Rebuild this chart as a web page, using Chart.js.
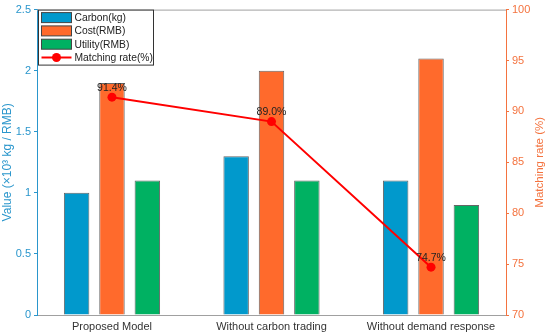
<!DOCTYPE html>
<html>
<head>
<meta charset="utf-8">
<script src="https://cdn.jsdelivr.net/npm/chart.js@4.4.0/dist/chart.umd.min.js"></script>
<style>
  html, body { margin: 0; padding: 0; background: #fff; }
  #wrap { width: 550px; height: 336px; }
</style>
</head>
<body>
<div id="wrap"><canvas id="chart" width="550" height="336"></canvas></div>
<script>
const categories = ['Proposed Model', 'Without carbon trading', 'Without demand response'];
const positions = [1, 2, 3];
const carbon = [1.0, 1.3, 1.1];
const cost = [1.9, 2.0, 2.1];
const utility = [1.1, 1.1, 0.9];
const matchingRate = [91.4, 89.0, 74.7];
const leftTicks = [0, 0.5, 1, 1.5, 2, 2.5];
const rightTicks = [70, 75, 80, 85, 90, 95, 100];

const BLUE = '#0199cc';
const ORANGE = '#ff6a2c';
const GREEN = '#00b162';
const RED = '#ff0000';
const LEFT_AXIS = '#2a96cc';
const RIGHT_AXIS = '#f4733f';
const FONT = 'Liberation Sans, Arial, sans-serif';

const toXY = arr => arr.map((v, i) => ({ x: positions[i], y: v }));

// percent labels above the line markers
const pointLabels = {
    id: 'pointLabels',
    afterDatasetsDraw(chart) {
        const ctx = chart.ctx;
        const meta = chart.getDatasetMeta(3);
        ctx.save();
        ctx.font = '10.5px ' + FONT;
        ctx.fillStyle = '#222';
        ctx.textAlign = 'center';
        ctx.textBaseline = 'bottom';
        meta.data.forEach((pt, i) => {
            ctx.fillText(matchingRate[i].toFixed(1) + '%', pt.x, pt.y - 4);
        });
        ctx.restore();
    }
};

// box frame (top border), right title reading upwards, legend inside the plot
const frameAndLegend = {
    id: 'frameAndLegend',
    afterDraw(chart) {
        const ctx = chart.ctx;
        const a = chart.chartArea;
        ctx.save();
        ctx.strokeStyle = '#a0a0a0';
        ctx.lineWidth = 1;
        ctx.beginPath();
        ctx.moveTo(a.left, a.top + 0.5);
        ctx.lineTo(a.right, a.top + 0.5);
        ctx.stroke();

        ctx.save();
        ctx.translate(540, (a.top + a.bottom) / 2);
        ctx.rotate(-Math.PI / 2);
        ctx.font = '11.5px ' + FONT;
        ctx.fillStyle = RIGHT_AXIS;
        ctx.textAlign = 'center';
        ctx.textBaseline = 'middle';
        ctx.fillText('Matching rate (%)', 0, 0);
        ctx.restore();

        const x0 = a.left + 1.5, y0 = a.top + 0.5, w = 115, h = 55;
        ctx.fillStyle = '#fff';
        ctx.fillRect(x0, y0, w, h);
        ctx.strokeStyle = '#333';
        ctx.strokeRect(x0, y0, w, h);

        const items = [
            { label: 'Carbon(kg)', color: BLUE },
            { label: 'Cost(RMB)', color: ORANGE },
            { label: 'Utility(RMB)', color: GREEN },
            { label: 'Matching rate(%)', color: RED, line: true }
        ];
        ctx.font = '10.3px ' + FONT;
        ctx.textBaseline = 'middle';
        ctx.textAlign = 'left';
        items.forEach((it, i) => {
            const cy = y0 + 7.5 + i * 13.3;
            if (it.line) {
                ctx.strokeStyle = it.color;
                ctx.lineWidth = 2;
                ctx.beginPath();
                ctx.moveTo(x0 + 3, cy);
                ctx.lineTo(x0 + 33, cy);
                ctx.stroke();
                ctx.fillStyle = it.color;
                ctx.beginPath();
                ctx.arc(x0 + 18, cy, 4.5, 0, Math.PI * 2);
                ctx.fill();
            } else {
                ctx.fillStyle = it.color;
                ctx.fillRect(x0 + 3, cy - 5, 30, 10);
                ctx.strokeStyle = '#444';
                ctx.lineWidth = 1;
                ctx.strokeRect(x0 + 3, cy - 5, 30, 10);
            }
            ctx.fillStyle = '#222';
            ctx.fillText(it.label, x0 + 36, cy + 0.5);
        });
        ctx.restore();
    }
};

const barStyle = {
    borderColor: '#666',
    borderWidth: 1,
    categoryPercentage: 0.665,
    barPercentage: 0.72,
    yAxisID: 'y'
};

const numFmt = v => String(Number(v));

new Chart(document.getElementById('chart'), {
    data: {
        datasets: [
            Object.assign({ type: 'bar', label: 'Carbon(kg)', data: toXY(carbon), backgroundColor: BLUE, order: 2 }, barStyle),
            Object.assign({ type: 'bar', label: 'Cost(RMB)', data: toXY(cost), backgroundColor: ORANGE, order: 2 }, barStyle),
            Object.assign({ type: 'bar', label: 'Utility(RMB)', data: toXY(utility), backgroundColor: GREEN, order: 2 }, barStyle),
            {
                type: 'line',
                label: 'Matching rate(%)',
                data: toXY(matchingRate),
                borderColor: RED,
                backgroundColor: RED,
                borderWidth: 2,
                pointRadius: 4.5,
                pointBackgroundColor: RED,
                pointBorderWidth: 0,
                tension: 0,
                yAxisID: 'y1',
                order: 1
            }
        ]
    },
    options: {
        responsive: false,
        animation: false,
        events: [],
        layout: { padding: { top: 7, left: 0, right: 0, bottom: 0 } },
        plugins: {
            legend: { display: false },
            tooltip: { enabled: false }
        },
        scales: {
            x: {
                type: 'linear',
                min: 0.53,
                max: 3.47,
                offset: false,
                afterBuildTicks(scale) { scale.ticks = positions.map(v => ({ value: v })); },
                grid: { display: false, drawTicks: false },
                border: { color: '#a0a0a0' },
                ticks: {
                    color: '#333',
                    font: { family: FONT, size: 11 },
                    padding: 5,
                    maxRotation: 0,
                    autoSkip: false,
                    callback: v => categories[positions.indexOf(v)]
                },
                afterFit(scale) { scale.height = 21; }
            },
            y: {
                position: 'left',
                min: 0,
                max: 2.5,
                afterBuildTicks(scale) { scale.ticks = leftTicks.map(v => ({ value: v })); },
                grid: { drawOnChartArea: false, tickLength: 3, color: LEFT_AXIS },
                border: { color: LEFT_AXIS },
                ticks: { color: LEFT_AXIS, font: { family: FONT, size: 11 }, padding: 3, callback: numFmt },
                title: { display: true, text: 'Value (×10³ kg / RMB)', color: LEFT_AXIS, font: { family: FONT, size: 12 }, padding: 0 },
                afterFit(scale) { scale.width = 37; }
            },
            y1: {
                position: 'right',
                min: 70,
                max: 100,
                afterBuildTicks(scale) { scale.ticks = rightTicks.map(v => ({ value: v })); },
                grid: { drawOnChartArea: false, tickLength: 3, color: RIGHT_AXIS },
                border: { color: RIGHT_AXIS },
                ticks: { color: RIGHT_AXIS, font: { family: FONT, size: 11 }, padding: 3, callback: numFmt },
                afterFit(scale) { scale.width = 44; }
            }
        }
    },
    plugins: [pointLabels, frameAndLegend]
});
</script>
</body>
</html>
